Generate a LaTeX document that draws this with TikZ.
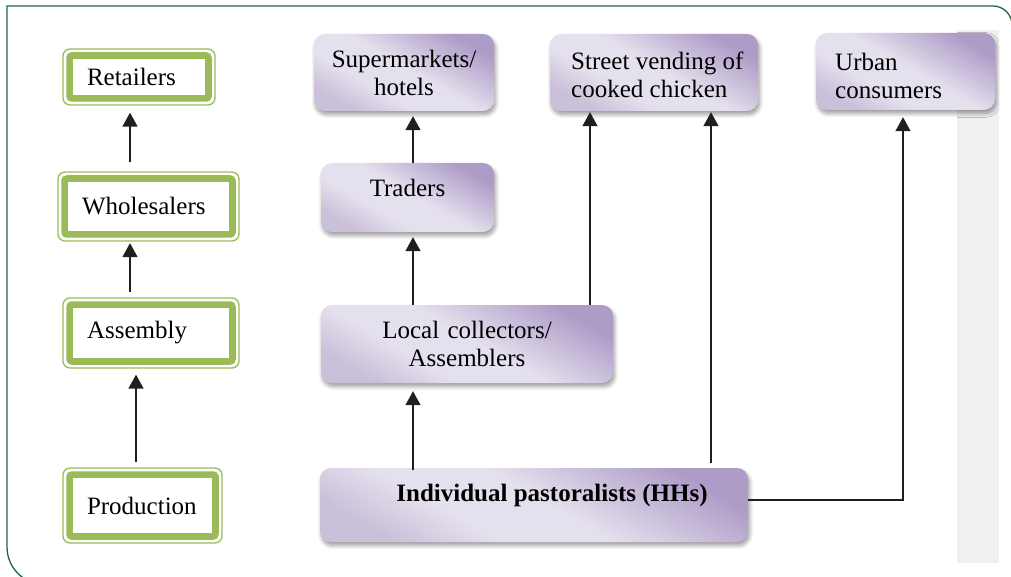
\documentclass[tikz,border=0pt]{standalone}
\usepackage{fontspec}
\setmainfont{Liberation Serif}
\usetikzlibrary{arrows.meta,shadows.blur}
\definecolor{framegreen}{HTML}{1B6B40}
\definecolor{boxgreen}{HTML}{9BBB59}
\definecolor{pdark}{HTML}{AE9CC8}
\definecolor{plight}{HTML}{E5E0ED}
\definecolor{pmid}{HTML}{CBC0DA}
\definecolor{stripgray}{HTML}{F0F0F0}
% light at the bottom, dark at the top
\pgfdeclareverticalshading{lilac}{100bp}{color(0bp)=(pmid); color(25bp)=(pmid); color(38bp)=(plight); color(52bp)=(plight); color(75bp)=(pdark); color(100bp)=(pdark)}
\begin{document}
\begin{tikzpicture}[x=1pt,y=-1pt,
  font=\fontsize{25}{28}\selectfont,
  greenbox/.style={draw=boxgreen, line width=1.3pt, rounded corners=7pt, fill=white,
    inner xsep=24pt, inner ysep=0pt, align=left},
  lilacbox/.style={rounded corners=11pt, shading=lilac, shading angle=-30,
    blur shadow={shadow xshift=1.5pt, shadow yshift=-3.5pt, shadow blur radius=4pt,
      shadow blur steps=8, shadow opacity=40},
    inner ysep=0pt},
  arr/.style={draw=black!88, line width=1.4pt, -{Triangle[width=15pt,length=14pt]}},
  plain/.style={inner sep=0pt}]
\useasboundingbox (0,0) rectangle (1011,577);
\begin{scope}
\clip (0,0) rectangle (1011,577);
% outer frame
\draw[framegreen, line width=1.3pt] (44.5,584.5) arc[start angle=90, end angle=180, radius=37.5]
  -- (7,6) -- (993,6) arc[start angle=270, end angle=360, radius=19] -- (1012,600);
% grey side strip
\fill[stripgray] (957,30) rectangle (999,563);

% stage column
\node[greenbox, minimum width=152pt, minimum height=56pt, text width=104pt] (ret) at (139,77) {Retailers};
\node[greenbox, minimum width=181pt, minimum height=69pt, text width=133pt] (whole) at (148.5,206.5) {Wholesalers};
\node[greenbox, minimum width=176pt, minimum height=70pt, text width=128pt] (asm) at (151,333) {Assembly};
\node[greenbox, minimum width=159pt, minimum height=75pt, text width=111pt] (prod) at (142.5,505.5) {Production};
\foreach \n in {ret,whole,asm,prod}
  \draw[boxgreen, line width=6.6pt, rounded corners=2.5pt]
    ([shift={(7.2,7.2)}]\n.north west) rectangle ([shift={(-7.2,-7.2)}]\n.south east);

% actors
\node[lilacbox, minimum width=180pt, minimum height=77pt, text width=170pt, align=center] (sup) at (404,72.5) {Supermarkets/\\hotels};
\node[lilacbox, minimum width=208pt, minimum height=77pt] (street) at (654,72.5) {};
\node[plain, align=left, anchor=west] (streettext) at (571,75) {Street vending of\\cooked chicken};
\node[lilacbox, minimum width=179pt, minimum height=77pt] (urban) at (905.5,71.5) {};
\node[plain, align=left, anchor=west] (urbantext) at (835,75.5) {Urban\\consumers};
\node[lilacbox, minimum width=173pt, minimum height=69pt] (traders) at (407.5,197.5) {};
\node[plain] (traderstext) at (407.5,188) {Traders};
\node[lilacbox, minimum width=292pt, minimum height=78pt, text width=280pt, align=center] (local) at (467,344) {Local collectors/\\Assemblers};
\node[lilacbox, minimum width=428pt, minimum height=74pt] (indiv) at (534,505) {};
\node[plain] (indivtext) at (552,495) {\bfseries Individual pastoralists (HHs)};

% stage flow
\draw[arr] ([xshift=-18.5pt, yshift=9pt]whole.north) -- ([xshift=-9pt, yshift=-7pt]ret.south);
\draw[arr] ([xshift=-21pt, yshift=5pt]asm.north) -- ([xshift=-18.5pt, yshift=-1.5pt]whole.south);
\draw[arr] ([xshift=-6.5pt, yshift=5pt]prod.north) -- ([xshift=-15pt, yshift=-6pt]asm.south);

% actor flow
\draw[arr] ([xshift=5.5pt]traders.north) -- ([xshift=9pt, yshift=-5pt]sup.south);
\draw[arr] ([xshift=-54pt]local.north) -- ([xshift=5.5pt, yshift=-5pt]traders.south);
\draw[arr] ([xshift=-121pt, yshift=-2pt]indiv.north) -- ([xshift=-54pt, yshift=-8pt]local.south);
\draw[arr] ([xshift=123pt]local.north) -- ([xshift=-64pt, yshift=-1pt]street.south);
\draw[arr] ([xshift=177pt, yshift=5pt]indiv.north) -- ([xshift=57pt, yshift=-1pt]street.south);
\draw[arr] ([yshift=5pt]indiv.east) -| ([xshift=-2.5pt, yshift=-7pt]urban.south);
\end{scope}
\end{tikzpicture}
\end{document}
